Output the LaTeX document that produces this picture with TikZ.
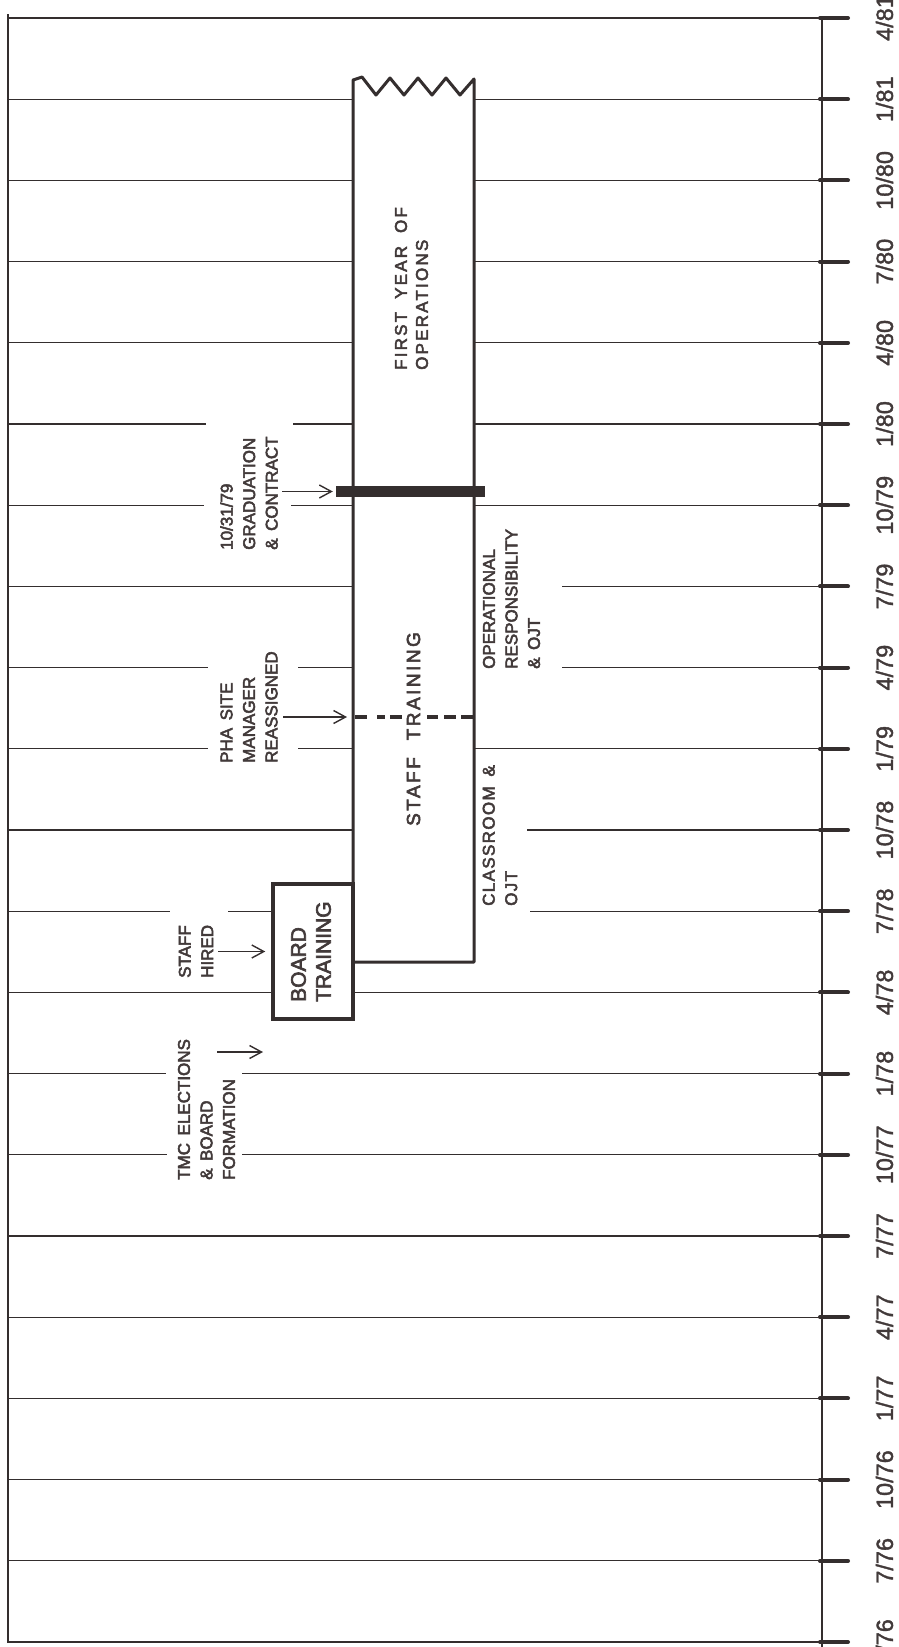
\documentclass[tikz,border=0pt]{standalone}
\usepackage{fontspec}
\setmainfont{Liberation Sans}
\newfontfamily\lab[FakeBold=3,WordSpace=1.6]{Liberation Sans}
\newfontfamily\labwide[FakeBold=3,WordSpace=1.6,LetterSpace=8]{Liberation Sans}
\newfontfamily\tickfont[FakeBold=1.5]{Liberation Sans}
\newfontfamily\spaceda[LetterSpace=13,FakeBold=3]{Liberation Sans}
\newfontfamily\spacedb[LetterSpace=13,FakeBold=3]{Liberation Sans}
\usetikzlibrary{arrows.meta}
\definecolor{ink}{RGB}{52,46,46}
\definecolor{txt}{RGB}{66,58,58}
\begin{document}
\begin{tikzpicture}[x=1pt,y=-1pt,
  grid/.style={draw=ink, line width=1.3pt},
  tickmark/.style={draw=ink, line width=4pt, line cap=round},
  boxline/.style={draw=ink, line width=3pt, line join=round},
  dashseg/.style={draw=ink, line width=4.5pt},
  evarrow/.style={draw=ink, line width=1.4pt, -{Straight Barb[length=12pt,width=13pt,line width=1.4pt]}},
  evlabel/.style={rotate=90, anchor=west, align=left, inner sep=0pt, text=txt, font=\lab\fontsize{17}{22.5}\selectfont},
  ticklabel/.style={rotate=90, anchor=center, inner sep=0pt, text=txt, font=\tickfont\fontsize{23.5}{24}\selectfont},
  ]
\useasboundingbox (0,0) rectangle (899,1647);
\fill[white] (0,0) rectangle (899,1647);

% frame: left border and right axis
\draw[grid] (8,14) -- (8,1643);
\draw[grid] (822,16) -- (822,1647);

% full-width grid lines
\foreach \k in {0,15,16,17,18,19,20}{
  \pgfmathsetmacro\yy{18+81.2*\k}
  \draw[grid] (8,\yy) -- (822,\yy);
}
% lines interrupted by the operations box
\foreach \k in {1,2,3,4}{
  \pgfmathsetmacro\yy{18+81.2*\k}
  \draw[grid] (8,\yy) -- (353,\yy);
  \draw[grid] (474,\yy) -- (822,\yy);
}
% k=5
\draw[grid] (8,424) -- (206,424);
\draw[grid] (293,424) -- (353,424);
\draw[grid] (474,424) -- (822,424);
% k=6
\draw[grid] (8,505.2) -- (204,505.2);
\draw[grid] (291,505.2) -- (353,505.2);
\draw[grid] (474,505.2) -- (822,505.2);
% k=7
\draw[grid] (8,586.4) -- (353,586.4);
\draw[grid] (562,586.4) -- (822,586.4);
% k=8
\draw[grid] (8,667.6) -- (208,667.6);
\draw[grid] (298,667.6) -- (353,667.6);
\draw[grid] (562,667.6) -- (822,667.6);
% k=9
\draw[grid] (8,748.8) -- (208,748.8);
\draw[grid] (298,748.8) -- (353,748.8);
\draw[grid] (474,748.8) -- (822,748.8);
% k=10
\draw[grid] (8,830) -- (353,830);
\draw[grid] (527,830) -- (822,830);
% k=11
\draw[grid] (8,911.2) -- (170,911.2);
\draw[grid] (228,911.2) -- (273,911.2);
\draw[grid] (530,911.2) -- (822,911.2);
% k=12
\draw[grid] (8,992.4) -- (273,992.4);
\draw[grid] (353,992.4) -- (822,992.4);
% k=13
\draw[grid] (8,1073.6) -- (166,1073.6);
\draw[grid] (242,1073.6) -- (822,1073.6);
% k=14
\draw[grid] (8,1154.8) -- (167,1154.8);
\draw[grid] (242,1154.8) -- (822,1154.8);

% ticks and their dates
\foreach \lbl [count=\k from 0] in {4/81,1/81,10/80,7/80,4/80,1/80,10/79,7/79,4/79,1/79,10/78,7/78,4/78,1/78,10/77,7/77,4/77,1/77,10/76,7/76,4/76}{
  \pgfmathsetmacro\yy{18+81.2*\k}
  \draw[tickmark] (820,\yy) -- (848,\yy);
  \node[ticklabel] (t\k) at (884.5,\yy) {\lbl};
}

% operations / staff training outline
\draw[boxline] (353,884) -- (353,80) -- (362,77) -- (376,95) -- (390,78) -- (404,95)
  -- (418,78) -- (432,95) -- (446,78) -- (460,95) -- (474,79) -- (474,962) -- (353,962);

% board training box
\node[draw=ink, line width=3.5pt, minimum width=80pt, minimum height=135pt, inner sep=0pt] (board) at (313,951.5) {};
\node[rotate=90, anchor=west, align=left, inner sep=0pt, text=txt, font=\lab\fontsize{21}{25}\selectfont] (boardtxt) at (311,1002) {BOARD\\TRAINING};

% graduation bar
\node[fill=ink, inner sep=0pt, minimum width=149pt, minimum height=11pt] (bar) at (410.5,491.5) {};

% site manager reassigned (dashed)
\foreach \a/\b in {355/367,377/385,390/402,427/438,444/456,461/473}{
  \draw[dashseg] (\a,717) -- (\b,717);
}

% box texts
\node[rotate=90, anchor=west, align=left, inner sep=0pt, text=txt, font=\spaceda\fontsize{17}{21}\selectfont] (fy) at (411.5,370) {FIRST\hspace{13pt}YEAR\hspace{13pt}OF\\OPERATIONS};
\node[rotate=90, inner sep=0pt, text=txt, font=\spacedb\fontsize{19}{22}\selectfont] (st) at (413.5,729) {STAFF\hspace{17pt}TRAINING};

% event labels
\node[evlabel] (grad) at (249,550) {10/31/79\\GRADUATION\\\& CONTRACT};
\node[evlabel] (pha) at (249,763) {PHA SITE\\MANAGER\\REASSIGNED};
\node[evlabel] (hired) at (196,978) {STAFF\\HIRED};
\node[evlabel] (tmc) at (206.5,1180) {TMC ELECTIONS\\\& BOARD\\FORMATION};
\node[evlabel] (oper) at (511.5,669) {OPERATIONAL\\RESPONSIBILITY\\\& OJT};
\node[evlabel, font=\labwide\fontsize{17}{22.5}\selectfont] (class) at (500,906) {CLASSROOM \&\\OJT};

% event arrows
\coordinate (gradA) at (282,491.5);
\draw[evarrow] (gradA) -- ([xshift=-3pt]bar.west);
\coordinate (phaA) at (283,717);
\coordinate (phaB) at (347,717);
\draw[evarrow] (phaA) -- (phaB);
\coordinate (hiredA) at (218,951.5);
\draw[evarrow] (hiredA) -- ([xshift=-6pt]board.west);
\coordinate (tmcA) at (217,1052);
\coordinate (tmcB) at (263,1052);
\draw[evarrow] (tmcA) -- (tmcB);
\end{tikzpicture}
\end{document}
